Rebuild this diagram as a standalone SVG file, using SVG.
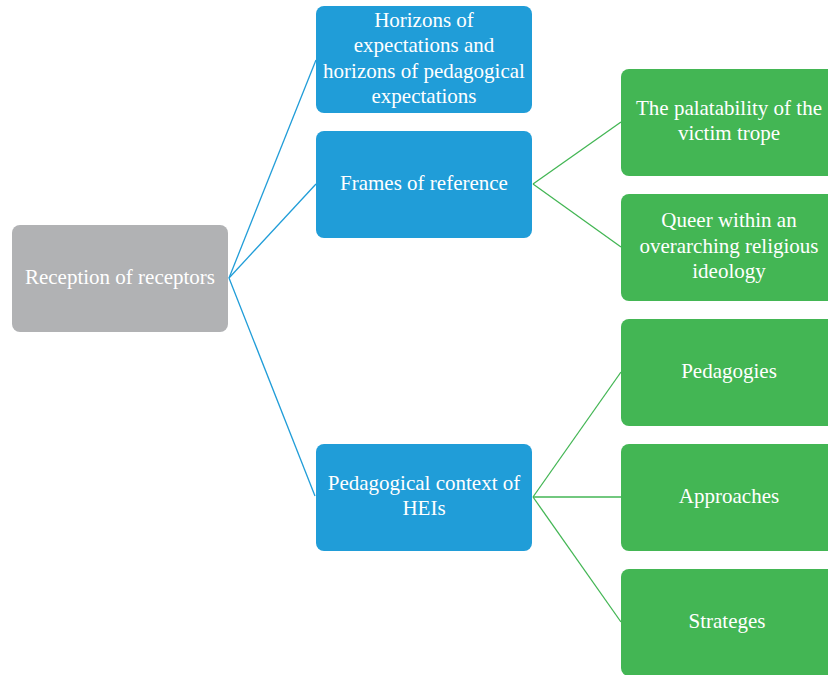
<svg xmlns="http://www.w3.org/2000/svg" width="828" height="675" viewBox="0 0 828 675">
<style>
.box{stroke:none}
.gray{fill:#b1b2b4}
.blue{fill:#209dd8}
.green{fill:#43b654}
text{font-family:"Liberation Serif","Times New Roman",serif;font-size:21px;fill:#ffffff;text-anchor:middle}
.cb{stroke:#209dd8;stroke-width:1.3;fill:none}
.cg{stroke:#43b654;stroke-width:1.3;fill:none}
</style>
<rect width="828" height="675" fill="#ffffff"/>
<g id="connectors">
<line class="cb" x1="229" y1="278" x2="316" y2="60"/>
<line class="cb" x1="229" y1="278" x2="316" y2="184"/>
<line class="cb" x1="229" y1="278" x2="315" y2="496"/>
<line class="cg" x1="533" y1="184" x2="621" y2="122"/>
<line class="cg" x1="533" y1="184" x2="621" y2="247"/>
<line class="cg" x1="533" y1="497" x2="621" y2="372"/>
<line class="cg" x1="533" y1="497" x2="621" y2="497"/>
<line class="cg" x1="533" y1="497" x2="621" y2="622"/>
</g>
<g id="root">
<rect class="box gray" x="12" y="225" width="216" height="107" rx="8"/>
<text x="120" y="284">Reception of receptors</text>
</g>
<g id="horizons">
<rect class="box blue" x="316" y="6" width="216" height="107" rx="8"/>
<text x="424" y="27">Horizons of</text>
<text x="424" y="52">expectations and</text>
<text x="424" y="78">horizons of pedagogical</text>
<text x="424" y="103">expectations</text>
</g>
<g id="frames">
<rect class="box blue" x="316" y="131" width="216" height="107" rx="8"/>
<text x="424" y="190">Frames of reference</text>
</g>
<g id="pedcontext">
<rect class="box blue" x="316" y="444" width="216" height="107" rx="8"/>
<text x="424" y="490">Pedagogical context of</text>
<text x="424" y="515">HEIs</text>
</g>
<g id="palatability">
<rect class="box green" x="621" y="69" width="216" height="107" rx="8"/>
<text x="729" y="115">The palatability of the</text>
<text x="729" y="140">victim trope</text>
</g>
<g id="queer">
<rect class="box green" x="621" y="194" width="216" height="107" rx="8"/>
<text x="729" y="227">Queer within an</text>
<text x="729" y="253">overarching religious</text>
<text x="729" y="278">ideology</text>
</g>
<g id="pedagogies">
<rect class="box green" x="621" y="319" width="216" height="107" rx="8"/>
<text x="729" y="378">Pedagogies</text>
</g>
<g id="approaches">
<rect class="box green" x="621" y="444" width="216" height="107" rx="8"/>
<text x="729" y="503">Approaches</text>
</g>
<g id="strateges">
<rect class="box green" x="621" y="569" width="216" height="107" rx="8"/>
<text x="727" y="628">Strateges</text>
</g>
</svg>
